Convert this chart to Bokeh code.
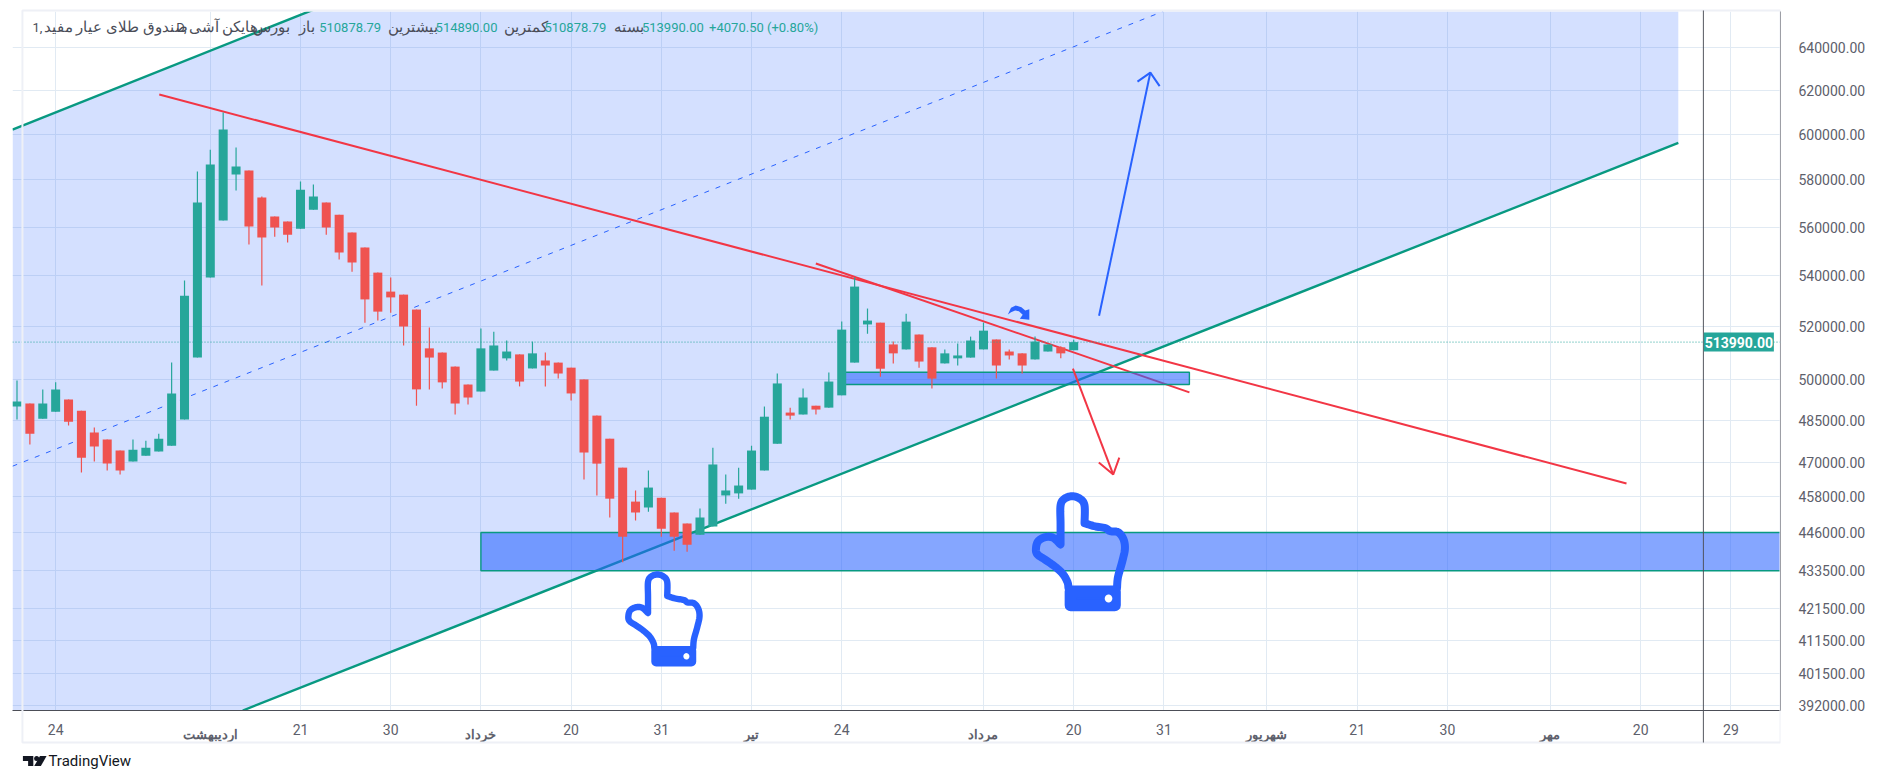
import numpy as np
from bokeh.plotting import figure
from bokeh.layouts import column
from bokeh.embed import file_html
from bokeh.resources import INLINE
from bokeh.models import (Range1d, FixedTicker, NumeralTickFormatter, Label, Span, LinearAxis, ColumnDataSource)

# ---------- chart data (Heikin Ashi daily candles) ----------
candle_index = list(range(-3, 80))
opens = [489900,491000,485500,488000,492500,488400,480500,478000,474100,470200,472300,473800,475800,485200,508100,539300,562700,582400,584100,572500,564400,562300,559300,567300,570300,565200,557700,551500,541300,533700,532500,526600,511600,510000,504700,498000,495400,503200,507800,509300,504000,507000,506200,504300,499900,486600,478300,468100,456400,454400,457700,452700,449000,445300,448000,458500,459200,460500,467100,476500,487700,487000,490200,489500,494000,506200,520800,521500,513100,511200,516900,512000,505900,507800,508100,511200,515000,510400,509700,507400,510400,512000,510878.79]
highs = [499500,491000,496200,498800,492500,488400,482300,478000,474100,478000,477600,480100,506200,538100,583700,593200,609900,594200,584100,572900,564400,562300,579300,578000,570300,565200,557700,551500,541300,539300,532500,526600,519600,510000,504700,498000,519200,518000,514600,509300,514200,510000,506200,504300,499900,486600,478300,468100,460200,467100,457700,452700,449000,454100,475100,465700,468100,475800,489900,502100,489500,496500,490200,502500,521900,539300,527000,521500,514200,525000,516900,512000,511200,513500,516100,521500,515000,511200,509700,516100,513100,512400,514890]
lows = [485200,476200,485500,488000,483000,466400,470200,467100,465700,470200,472300,473800,475800,485200,508100,539300,562700,575400,552800,536100,556000,553600,559300,567300,556800,546600,541700,521500,522300,525400,512700,490200,496200,496500,487000,490600,495400,503200,507000,497300,504000,497300,500200,492100,464000,458500,451000,436200,450000,453000,444600,440000,439700,445300,448000,455700,457400,460500,467100,476500,485200,487000,487000,489500,494000,506200,517200,500900,505900,511200,504300,496500,505900,505100,508100,511200,500200,507400,502100,507400,510400,507800,510878.79]
closes = [491700,480100,491000,496200,484400,471600,475500,469500,467100,474400,475100,478300,494700,532100,570300,586700,602200,585800,560200,555600,559800,556800,575800,572900,559800,549500,545400,530600,525800,531400,520000,496200,508100,498800,491000,493200,511600,512700,510400,499100,509700,505100,502100,494700,473400,469500,457400,444600,452700,461200,447300,444600,442000,451000,469200,460200,461900,474100,486200,498400,486600,493200,488800,499100,518800,535700,522300,503900,509700,521900,506600,500200,509700,508900,514600,518400,505100,508900,505100,514200,513100,509700,513990]

# ---------- axis labels ----------
price_ticks = [392000,401500,411500,421500,433500,446000,458000,470000,485000,500000,520000,540000,560000,580000,600000,620000,640000]
day_ticks = {0:"24",19:"21",26:"30",40:"20",47:"31",61:"24",79:"20",86:"31",101:"21",108:"30",123:"20",130:"29"}
month_ticks = {12:"اردیبهشت",33:"خرداد",54:"تیر",72:"مرداد",94:"شهریور",116:"مهر"}

# ---------- drawings anchored in (bar index, price) ----------
channel_x = [-3.349,26.66,125.92,125.92,14.52,-3.349]
channel_y = [602200,675400,675400,596200,390620,390620]
upper_x, upper_y = [-3.349,26.66], [602200,675400]
lower_x, lower_y = [14.52,125.92], [390620,596200]
middle_x, middle_y = [-3.349,85.9], [468600,657500]
red_long_x, red_long_y = [8.04,121.9], [618100,462600]
red_short_x, red_short_y = [58.99,87.98], [545000,495100]
zone_big = dict(left=33, right=140, bottom=433500, top=446000)
zone_small = dict(left=61, right=87.98, bottom=498000, top=502600)
blue_arrow_x, blue_arrow_y = [80.97,84.95], [524200,628300]
blue_head_x, blue_head_y = [83.95,84.95,85.67], [624100,628300,622000]
red_arrow_x, red_arrow_y = [78.94,82.07], [503900,465700]
red_head_x, red_head_y = [80.95,82.07,82.54], [469900,465700,471600]

last_close = 513990

legend_pieces = [("1,",21,"n"),("صندوق طلای عیار مفید",33,"a"),("D,",173,"n"),("هایکن آشی,",186,"a"),("بورس",254,"a"),
                 ("باز",303,"a"),("510878.79",324,"v"),("بیشترین",397,"a"),("514890.00",447,"v"),
                 ("کمترین",519,"a"),("510878.79",562,"v"),("بسته",635,"a"),("513990.00",665,"v"),
                 ("+4070.50 (+0.80%)",736,"v")]

UP, DOWN = "#26a69a", "#ef5350"
TEAL, RED, BLUE = "#089981", "#f23645", "#2962ff"
GRID, AXIS, TEXT = "#e1eaf3", "#4c4e57", "#5d606b"
FONT = "Roboto"
W, H = 1868, 773

p = figure(width=W, height=H, output_backend="svg", toolbar_location=None,
           x_range=Range1d(-3.349, 133.85), y_range=Range1d(390620, 657550),
           y_axis_type="log", y_axis_location="right",
           min_border_left=12, min_border_right=82, min_border_top=11, min_border_bottom=63)
p.outline_line_color = None
p.background_fill_color = "white"

all_x = sorted(list(day_ticks) + list(month_ticks))
p.xaxis.ticker = FixedTicker(ticks=list(day_ticks))
p.xaxis.major_label_overrides = dict(day_ticks)
p.yaxis.ticker = FixedTicker(ticks=price_ticks)
p.yaxis.formatter = NumeralTickFormatter(format="0.00")
p.xgrid.ticker = FixedTicker(ticks=all_x)
p.ygrid.ticker = FixedTicker(ticks=price_ticks)
p.xgrid.grid_line_color = GRID
p.ygrid.grid_line_color = GRID

month_axis = LinearAxis(ticker=FixedTicker(ticks=list(month_ticks)), major_label_overrides=dict(month_ticks))
p.add_layout(month_axis, "below")
for ax in (p.xaxis[0], p.yaxis[0], month_axis):
    ax.major_tick_line_color = None
    ax.minor_tick_line_color = None
    ax.axis_line_color = AXIS
    ax.major_label_text_color = TEXT
    ax.major_label_text_font = FONT
    ax.major_label_text_font_size = "14px"
month_axis.axis_line_color = None
month_axis.major_label_text_font_style = "bold"
month_axis.major_label_text_font_size = "13px"
month_axis.major_label_standoff = -17
p.yaxis[0].major_label_standoff = 12
p.xaxis[0].major_label_standoff = 7

# channel
p.patch(channel_x, channel_y, fill_color=BLUE, fill_alpha=0.2, line_color=None)
p.line(upper_x, upper_y, line_color=TEAL, line_width=2.4)
p.line(lower_x, lower_y, line_color=TEAL, line_width=2.4)
p.line(middle_x, middle_y, line_color=BLUE, line_width=1, line_dash="5 7")
# red trend lines
p.line(red_long_x, red_long_y, line_color=RED, line_width=2)
p.line(red_short_x, red_short_y, line_color=RED, line_width=2)
# zones
for z in (zone_big, zone_small):
    p.quad(fill_color=BLUE, fill_alpha=0.57, line_color=TEAL, line_width=1.4, **z)

# candles
colors = [UP if c >= o else DOWN for o, c in zip(opens, closes)]
src = ColumnDataSource(dict(x=candle_index, o=opens, h=highs, l=lows, c=closes, color=colors,
                            top=[max(a, b) for a, b in zip(opens, closes)],
                            bot=[min(a, b) for a, b in zip(opens, closes)]))
p.segment("x", "h", "x", "l", source=src, line_color="color", line_width=1.2)
p.vbar("x", 0.7, "bot", "top", source=src, fill_color="color", line_color=None)

# arrows
p.line(blue_arrow_x, blue_arrow_y, line_color=BLUE, line_width=2)
p.line(blue_head_x, blue_head_y, line_color=BLUE, line_width=2)
p.line(red_arrow_x, red_arrow_y, line_color=RED, line_width=2)
p.line(red_head_x, red_head_y, line_color=RED, line_width=2)

# last price line
p.add_layout(Span(location=last_close, dimension="width", line_color=UP, line_width=1, line_dash="1 2"))

# ---------- overlay in page pixels: legend, price tag, icons, footer ----------
o = figure(width=W, height=H, output_backend="svg", toolbar_location=None,
           x_range=Range1d(0, W), y_range=Range1d(H, 0), x_axis_location=None, y_axis_location=None,
           min_border=0, min_border_left=0, min_border_right=0, min_border_top=0, min_border_bottom=0,
           margin=(-H, 0, 0, 0))
o.grid.visible = False
o.outline_line_color = None
o.background_fill_alpha = 0
o.border_fill_alpha = 0

# frame lines
o.quad(left=[10.5], right=[1868], top=[10], bottom=[742], fill_alpha=0, line_color="#eef0f6", line_width=2)
o.quad(left=[1786], right=[1787], top=[10], bottom=[742], fill_color=AXIS, line_color=None)

# legend row
for txt, x, kind in legend_pieces:
    o.add_layout(Label(x=x, y=26.5, text=txt, text_baseline="middle", text_font=FONT,
                       text_font_size="15px" if kind == "a" else "13px",
                       text_color=UP if kind == "v" else "#4a4d58"))

# price tag
o.quad(left=[1787], right=[1861], top=[332], bottom=[351], fill_color=UP, line_color=None)
o.add_layout(Label(x=1824, y=341.5, text="513990.00", text_align="center", text_baseline="middle",
                   text_font=FONT, text_font_size="14px", text_font_style="bold", text_color="white"))

def spline(pts, n=8):
    pts = np.array(pts, float)
    P = np.vstack([pts[0], pts, pts[-1]])
    out = []
    for i in range(1, len(P) - 2):
        for t in np.linspace(0, 1, n, endpoint=False):
            out.append(0.5 * ((2 * P[i]) + (-P[i-1] + P[i+1]) * t + (2*P[i-1] - 5*P[i] + 4*P[i+1] - P[i+2]) * t**2
                              + (-P[i-1] + 3*P[i] - 3*P[i+1] + P[i+2]) * t**3))
    out.append(pts[-1])
    return np.array(out)

thumb = [(168,322),(165,305),(150,280),(125,258),(95,238),(70,222),(65,205),(72,182),(95,170),(120,172),(143,192)]
finger = [(143,192),(143,130),(143,75),(155,55),(180,47),(205,55),(219,75),(219,128)]
palm = [(219,128),(250,137),(285,143),(300,152),(325,155),(342,175),(347,205),(338,245),(325,290),(322,322)]

def hand(x0, y0, s):
    path = np.vstack([spline(thumb), spline(finger), spline(palm)])
    X = lambda u: x0 + s * (np.asarray(u, float) - 55) / 3
    Y = lambda v: y0 + s * (np.asarray(v, float) - 36) / 3
    o.line(X(path[:, 0]), Y(path[:, 1]), line_color=BLUE, line_width=8 * s, line_join="round", line_cap="round")
    bx, by = [175, 315, 315, 175], [333, 333, 374, 374]
    o.patch(X(bx), Y(by), fill_color=BLUE, line_color=BLUE, line_width=12 * s, line_join="round")
    th = np.linspace(0, 2 * np.pi, 24)
    o.patch(X(295 + 12 * np.cos(th)), Y(354 + 12 * np.sin(th)), fill_color="white", line_color=None)

hand(1078, 492, 1.0)
hand(648, 571, 0.8)

# small curved arrow
ca_u = [275,285,300,318,330,343,343,313,322,310,298,285]
ca_v = [72,52,45,50,60,56,88,85,73,62,60,65]
o.patch([960 + u / 3 for u in ca_u], [290 + v / 3 for v in ca_v], fill_color=BLUE, line_color=None)

# TradingView mark
dark = "#131722"
o.patch([11,22,22,16.5,16.5,11], [755.5,755.5,765.5,765.5,760.5,760.5], fill_color=dark, line_color=None)
o.patch([29,36,30,23], [755.5,755.5,765.5,765.5], fill_color=dark, line_color=None)
o.scatter([25.5], [758], size=5, marker="circle", fill_color=dark, line_color=None)
o.add_layout(Label(x=38, y=760, text="TradingView", text_baseline="middle", text_font=FONT,
                   text_font_size="15px", text_color=dark))

layout = column(p, o, spacing=0)
open("out.html", "w").write(file_html(layout, INLINE))
